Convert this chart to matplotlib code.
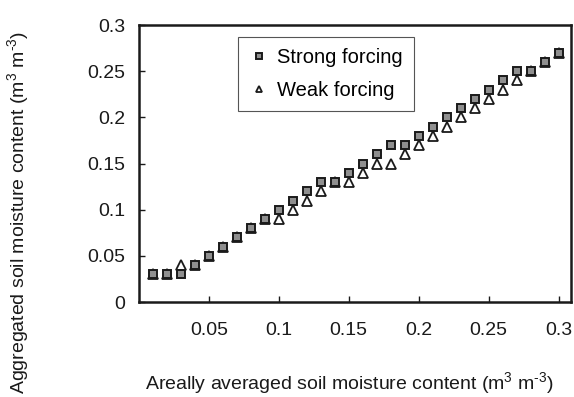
import matplotlib
matplotlib.use('Agg')
from matplotlib import pyplot as plt

plt.rcParams['font.family'] = ['Liberation Sans', 'DejaVu Sans']
plt.rcParams['mathtext.fontset'] = 'custom'
plt.rcParams['mathtext.rm'] = 'Liberation Sans'
plt.rcParams['mathtext.it'] = 'Liberation Sans'
plt.rcParams['mathtext.default'] = 'regular'

# areally averaged soil moisture (x) and aggregated values (y)
areal = [0.01, 0.02, 0.03, 0.04, 0.05, 0.06, 0.07, 0.08, 0.09, 0.10,
         0.11, 0.12, 0.13, 0.14, 0.15, 0.16, 0.17, 0.18, 0.19, 0.20,
         0.21, 0.22, 0.23, 0.24, 0.25, 0.26, 0.27, 0.28, 0.29, 0.30]
strong = [0.03, 0.03, 0.03, 0.04, 0.05, 0.06, 0.07, 0.08, 0.09, 0.10,
          0.11, 0.12, 0.13, 0.13, 0.14, 0.15, 0.16, 0.17, 0.17, 0.18,
          0.19, 0.20, 0.21, 0.22, 0.23, 0.24, 0.25, 0.25, 0.26, 0.27]
weak = [0.03, 0.03, 0.04, 0.04, 0.05, 0.06, 0.07, 0.08, 0.09, 0.09,
        0.10, 0.11, 0.12, 0.13, 0.13, 0.14, 0.15, 0.15, 0.16, 0.17,
        0.18, 0.19, 0.20, 0.21, 0.22, 0.23, 0.24, 0.25, 0.26, 0.27]

xticks = [0.05, 0.1, 0.15, 0.2, 0.25, 0.3]
xticklabels = ['0.05', '0.1', '0.15', '0.2', '0.25', '0.3']
yticks = [0, 0.05, 0.1, 0.15, 0.2, 0.25, 0.3]
yticklabels = ['0', '0.05', '0.1', '0.15', '0.2', '0.25', '0.3']

fig = plt.figure(figsize=(5.74, 3.97), dpi=100)
ax = fig.add_axes([0.242, 0.239, 0.753, 0.698])

ax.plot(areal, weak, linestyle='none', marker='^', markersize=6.5,
        markerfacecolor='white', markeredgecolor='#1a1a1a', markeredgewidth=1.3,
        label='Weak forcing', zorder=3)
ax.plot(areal, strong, linestyle='none', marker='s', markersize=6.3,
        markerfacecolor='#8f8f8f', markeredgecolor='#1a1a1a', markeredgewidth=1.4,
        label='Strong forcing', zorder=4)

ax.set_xlim(0, 0.309)
ax.set_ylim(0, 0.3)
ax.set_xticks(xticks)
ax.set_xticklabels(xticklabels)
ax.set_yticks(yticks)
ax.set_yticklabels(yticklabels)
ax.tick_params(direction='in', length=4, width=1, labelsize=14, colors='#1a1a1a')
ax.tick_params(axis='x', pad=14)
ax.tick_params(axis='y', pad=10)

for s in ax.spines.values():
    s.set_linewidth(1.8)
    s.set_color('#1a1a1a')

ax.set_xlabel('Areally averaged soil moisture content (m$^3$ m$^{\\text{-}3}$)',
              fontsize=14, color='#1a1a1a', va='center')
ax.set_ylabel('Aggregated soil moisture content (m$^3$ m$^{\\text{-}3}$)',
              fontsize=14, color='#1a1a1a', va='center')
ax.xaxis.set_label_coords(0.488, -0.292)
ax.yaxis.set_label_coords(-0.28, 0.325)

handles, labels = ax.get_legend_handles_labels()
leg = ax.legend(handles[::-1], labels[::-1], loc='upper left',
                bbox_to_anchor=(0.415, 0.907), bbox_transform=fig.transFigure,
                borderaxespad=0, fontsize=14.5, markerscale=0.7, handlelength=1.0,
                handletextpad=0.4, borderpad=0.55, labelspacing=0.7, fancybox=False,
                framealpha=1, edgecolor='#555555')
leg.get_frame().set_linewidth(0.8)

fig.savefig('out.png', dpi=100)
